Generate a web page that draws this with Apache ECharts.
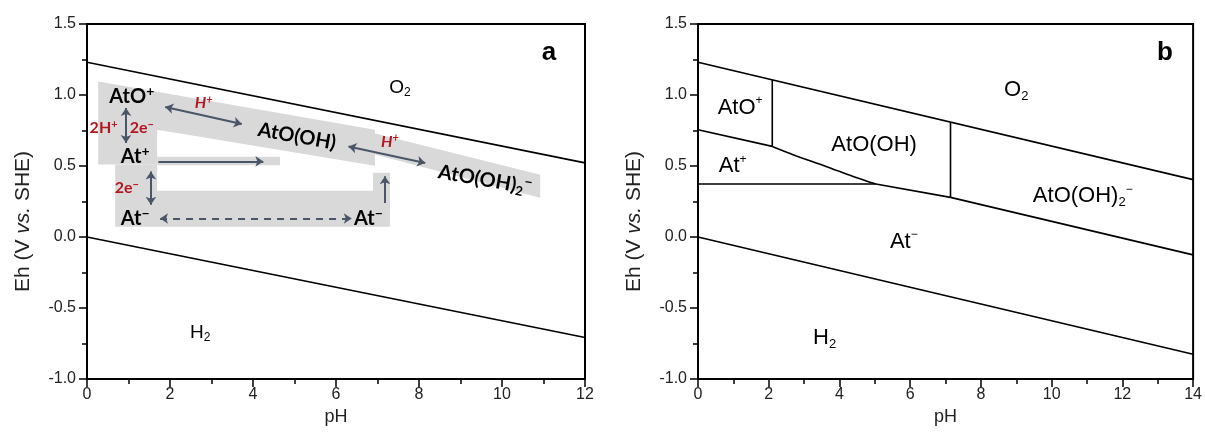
<!DOCTYPE html>
<html>
<head>
<meta charset="utf-8">
<script src="https://cdn.jsdelivr.net/npm/echarts@6/dist/echarts.min.js"></script>
<style>
html,body{margin:0;padding:0;background:#fff;}
#chart{width:1205px;height:436px;}
</style>
</head>
<body>
<div id="chart"></div>
<script>
// ================= DATA (pH, Eh in V vs. SHE) =================
// Panel a: water stability lines
const waterUpperA = [[0, 1.23], [12, 0.522]];
const waterLowerA = [[0, 0.0], [12, -0.708]];
// Panel a: grey reaction-path shapes (polygon corners, pH/Eh)
const pathMainA = [[0.27, 1.095], [6.94, 0.756], [6.94, 0.502], [1.69, 0.756], [1.69, 0.51], [0.27, 0.51]];
const pathLowA = [[0.68, 0.51], [1.69, 0.51], [1.69, 0.326], [6.89, 0.326], [6.89, 0.453], [7.30, 0.453], [7.30, 0.072], [0.68, 0.072]];
const pathAtPlusA = [[1.69, 0.566], [4.65, 0.566], [4.65, 0.506], [1.69, 0.506]];
const pathHydroxoA = [[6.59, 0.756], [10.92, 0.439], [10.92, 0.277], [6.59, 0.608]];
// Panel a: arrows (from, to)
const arrowsTwoWayA = [
  [[1.885, 0.916], [3.73, 0.796]],
  [[6.30, 0.638], [8.15, 0.521]],
  [[0.94, 0.909], [0.94, 0.662]],
  [[1.54, 0.462], [1.54, 0.227]]
];
const arrowsOneWayA = [
  [[1.72, 0.532], [4.25, 0.532]],
  [[7.18, 0.239], [7.18, 0.427]]
];
const arrowsDashedA = [
  [[1.76, 0.130], [6.38, 0.130]]
];
// Panel a: species labels
const speciesTextA = ['{m|AtO}{p|+}', '{m|At}{p|+}', '{m|At}{p|−}', '{m|At}{p|−}', '{m|AtO(OH)}', '{m|AtO(OH)}{b|2}{p|−}'];
const speciesPosA = [[1.08, 0.991], [1.16, 0.568], [1.16, 0.133], [6.78, 0.133], [5.06, 0.709], [9.59, 0.403]];
const reactantTextA = ['{ri|H}{rip|+}', '{ri|H}{rip|+}', '{r|2H}{rp|+}', '{r|2e}{rp|−}', '{r|2e}{rp|−}'];
const reactantPosA = [[2.81, 0.944], [7.30, 0.673], [0.40, 0.768], [1.32, 0.768], [0.96, 0.345]];
const gasTextA = ['{m|O}{b|2}', '{m|H}{b|2}'];
const gasPosA = [[7.54, 1.052], [2.73, -0.676]];

// Panel b: water stability lines
const waterUpperB = [[0, 1.23], [14, 0.404]];
const waterLowerB = [[0, 0.0], [14, -0.826]];
// Panel b: predominance boundaries
const bAtOplusAtPlus = [[0, 0.755], [2.10, 0.638]];
const bAtPlusAtOOH = [[2.10, 0.638], [2.69, 0.580], [3.62, 0.497], [4.37, 0.427], [4.84, 0.387], [5.03, 0.373]];
const bAtPlusAtMinus = [[0, 0.373], [5.03, 0.373]];
const bAtOOHAtMinus = [[5.03, 0.373], [7.14, 0.279]];
const bAtOOH2AtMinus = [[7.14, 0.279], [14, -0.126]];
const bAtOplusAtOOH = [[2.10, 0.638], [2.10, 1.106]];
const bAtOOHAtOOH2 = [[7.14, 0.279], [7.14, 0.809]];
// Panel b: labels
const fieldTextB = ['{m|AtO}{p|+}', '{m|At}{p|+}', '{m|AtO(OH)}', '{m|AtO(OH)}{b|2}{p|−}', '{m|At}{p|−}', '{m|O}{b|2}', '{m|H}{b|2}'];
const fieldPosB = [[1.19, 0.909], [0.98, 0.497], [4.98, 0.650], [10.88, 0.286], [5.82, -0.032], [9.0, 1.038], [3.58, -0.711]];

// Axis ticks
const phMaxA = 12, phMaxB = 14, phStep = 2;
const ehMin = -1.0, ehMax = 1.5, ehStep = 0.5;

// ================= STYLE =================
const AX_FONT = 'Liberation Sans, Arial, sans-serif';
const LBL_FONT = 'Lato, "Open Sans", sans-serif';
const INK = '#000';
const ARROW = '#4a5568';
const RED = '#b3161e';
const GREY = '#d9d9d9';
const tiltA = [0, 0, 0, 0, -10, -10];

const chart = echarts.init(document.getElementById('chart'), null, {renderer: 'canvas'});

function axisX(idx, max) {
  return {
    type: 'value', gridIndex: idx, min: 0, max: max, interval: phStep,
    name: 'pH', nameLocation: 'middle', nameGap: 25,
    nameTextStyle: {fontFamily: AX_FONT, fontSize: 18, color: '#222'},
    axisLine: {show: true, onZero: false, lineStyle: {color: INK, width: 2}},
    axisTick: {show: true, length: 8, lineStyle: {color: INK, width: 1.5}},
    minorTick: {show: true, splitNumber: 2, length: 5, lineStyle: {color: INK, width: 1.5}},
    axisLabel: {fontFamily: AX_FONT, fontSize: 16, color: '#222', margin: 8},
    splitLine: {show: false}, minorSplitLine: {show: false}
  };
}
function axisY(idx) {
  return {
    type: 'value', gridIndex: idx, min: ehMin, max: ehMax, interval: ehStep,
    name: 'Eh (V {i|vs.} SHE)', nameLocation: 'middle', nameGap: 53,
    nameTextStyle: {fontFamily: AX_FONT, fontSize: 21, color: '#222', padding: [0, 40, 0, 0],
      rich: {i: {fontFamily: AX_FONT, fontSize: 21, fontStyle: 'italic', color: '#222'}}},
    axisLine: {show: true, onZero: false, lineStyle: {color: INK, width: 2}},
    axisTick: {show: true, length: 8, lineStyle: {color: INK, width: 1.5}},
    minorTick: {show: true, splitNumber: 2, length: 5, lineStyle: {color: INK, width: 1.5}},
    axisLabel: {fontFamily: AX_FONT, fontSize: 16, color: '#222', margin: 11,
      formatter: v => v.toFixed(1)},
    splitLine: {show: false}, minorSplitLine: {show: false}
  };
}
function lineSeries(idx, pts, smooth) {
  return {
    type: 'line', xAxisIndex: idx, yAxisIndex: idx, data: pts, showSymbol: false, symbol: 'none',
    smooth: smooth || false, silent: true, z: 3, animation: false,
    lineStyle: {color: INK, width: 1.6}
  };
}
function polySeries(idx, shapes) {
  return {
    type: 'custom', xAxisIndex: idx, yAxisIndex: idx, silent: true, z: 1, animation: false,
    data: shapes.map(s => s[0]),
    renderItem: (p, api) => ({
      type: 'polygon',
      shape: {points: shapes[p.dataIndex].map(pt => api.coord(pt))},
      style: {fill: GREY}
    })
  };
}
function arrowSeries(idx, list, symbols, dashed) {
  return {
    type: 'lines', coordinateSystem: 'cartesian2d', xAxisIndex: idx, yAxisIndex: idx,
    silent: true, z: 4, animation: false,
    symbol: symbols, symbolSize: 8,
    lineStyle: {color: ARROW, width: 2, opacity: 1, curveness: 0, type: dashed ? [7, 6] : 'solid'},
    data: list.map(c => ({coords: c}))
  };
}
function textSeries(idx, texts, pos, baseFont, rich, tilt) {
  return {
    type: 'custom', xAxisIndex: idx, yAxisIndex: idx, silent: true, z: 6, animation: false,
    data: pos,
    renderItem: (p, api) => {
      const c = api.coord(pos[p.dataIndex]);
      const r = tilt ? tilt[p.dataIndex] : 0;
      return {
        type: 'text', x: c[0], y: c[1], rotation: r * Math.PI / 180,
        style: {text: texts[p.dataIndex], font: baseFont, fill: INK,
          align: 'center', verticalAlign: 'middle', rich: rich}
      };
    }
  };
}

const richBoldA = {
  m: {font: 'bold 20px ' + LBL_FONT, fill: INK, lineHeight: 24},
  p: {font: 'bold 14px ' + LBL_FONT, fill: INK, lineHeight: 14, verticalAlign: 'top'},
  b: {font: 'bold 13px ' + LBL_FONT, fill: INK, lineHeight: 13, verticalAlign: 'bottom'}
};
const richRedA = {
  r: {font: 'bold 16px ' + LBL_FONT, fill: RED, lineHeight: 18},
  rp: {font: 'bold 11px ' + LBL_FONT, fill: RED, lineHeight: 10, verticalAlign: 'top'},
  ri: {font: 'italic bold 16px ' + LBL_FONT, fill: RED, lineHeight: 18},
  rip: {font: 'italic bold 11px ' + LBL_FONT, fill: RED, lineHeight: 10, verticalAlign: 'top'}
};
const richGasA = {
  m: {font: '19px ' + AX_FONT, fill: INK, lineHeight: 22},
  b: {font: '12px ' + AX_FONT, fill: INK, lineHeight: 12, verticalAlign: 'bottom'}
};
const richB = {
  m: {font: '22px ' + AX_FONT, fill: INK, lineHeight: 26},
  p: {font: '12px ' + AX_FONT, fill: INK, lineHeight: 12, verticalAlign: 'top'},
  b: {font: '13px ' + AX_FONT, fill: INK, lineHeight: 13, verticalAlign: 'bottom'}
};

const option = {
  animation: false,
  backgroundColor: '#fff',
  grid: [
    {left: 87, right: 620, top: 24, bottom: 57, show: true, borderColor: INK, borderWidth: 2, backgroundColor: 'transparent'},
    {left: 698, right: 9, top: 24, bottom: 57, show: true, borderColor: INK, borderWidth: 2, backgroundColor: 'transparent'}
  ],
  xAxis: [axisX(0, phMaxA), axisX(1, phMaxB)],
  yAxis: [axisY(0), axisY(1)],
  graphic: [
    {type: 'text', x: 549, y: 53, z: 10, style: {text: 'a', font: 'bold 26px ' + AX_FONT, fill: INK, align: 'center', verticalAlign: 'middle'}},
    {type: 'text', x: 1165, y: 53, z: 10, style: {text: 'b', font: 'bold 26px ' + AX_FONT, fill: INK, align: 'center', verticalAlign: 'middle'}}
  ],
  series: [
    polySeries(0, [pathMainA, pathLowA, pathAtPlusA, pathHydroxoA]),
    lineSeries(0, waterUpperA),
    lineSeries(0, waterLowerA),
    arrowSeries(0, arrowsTwoWayA, ['arrow', 'arrow'], false),
    arrowSeries(0, arrowsOneWayA, ['none', 'arrow'], false),
    arrowSeries(0, arrowsDashedA, ['arrow', 'arrow'], true),
    textSeries(0, speciesTextA, speciesPosA, 'bold 20px ' + LBL_FONT, richBoldA, tiltA),
    textSeries(0, reactantTextA, reactantPosA, 'bold 16px ' + LBL_FONT, richRedA, null),
    textSeries(0, gasTextA, gasPosA, '19px ' + AX_FONT, richGasA, null),

    lineSeries(1, waterUpperB),
    lineSeries(1, waterLowerB),
    lineSeries(1, bAtOplusAtPlus),
    lineSeries(1, bAtPlusAtOOH, 0.3),
    lineSeries(1, bAtPlusAtMinus),
    lineSeries(1, bAtOOHAtMinus),
    lineSeries(1, bAtOOH2AtMinus),
    lineSeries(1, bAtOplusAtOOH),
    lineSeries(1, bAtOOHAtOOH2),
    textSeries(1, fieldTextB, fieldPosB, '22px ' + AX_FONT, richB, null)
  ]
};
chart.setOption(option);
</script>
</body>
</html>
